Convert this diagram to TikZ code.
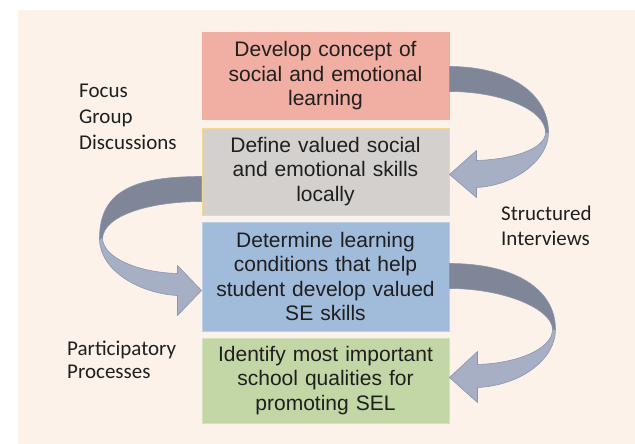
\documentclass[tikz,border=0pt]{standalone}
\usepackage{fontspec}
\setmainfont{Liberation Sans}
\newfontfamily\labelfont{Carlito}
\definecolor{bgcol}{HTML}{FCF2E9}
\definecolor{cone}{HTML}{F1AEA2}
\definecolor{ctwo}{HTML}{D3D0CE}
\definecolor{ctwoline}{HTML}{F3D890}
\definecolor{cthree}{HTML}{A1BBDB}
\definecolor{cthreeline}{HTML}{BACFE8}
\definecolor{cfour}{HTML}{C2D6A6}
\definecolor{cfourline}{HTML}{D3E2BF}
\definecolor{ardark}{HTML}{7E8697}
\definecolor{arlight}{HTML}{A7AFC4}
\definecolor{arline}{HTML}{8A95B0}
\definecolor{txt}{HTML}{1F1F1F}
\tikzset{
  stepbox/.style={rectangle, inner sep=0pt, minimum width=247pt, text width=240pt,
    align=center, text=txt, line width=1pt,
    font=\fontsize{21}{24.5}\selectfont},
  sidelabel/.style={inner sep=0pt, text width=130pt, align=left, text=txt,
    anchor=base west},
  ardarkpart/.style={fill=ardark, draw=arline, line width=0.6pt, line join=round},
  arlightpart/.style={fill=arlight, draw=arline, line width=0.6pt, line join=round}
}
\begin{document}
\begin{tikzpicture}[x=1pt,y=-1pt]
\useasboundingbox (0,0) rectangle (635,444);
\fill[bgcol] (18,10) rectangle (635,444);

% boxes
\node[stepbox, fill=cone, draw=cone, minimum height=86pt] (b1) at (325.5,76)
  {Develop concept of\\social and emotional\\learning};
\node[stepbox, fill=ctwo, draw=ctwoline, minimum height=87pt] (b2) at (325.5,171.5)
  {Define valued social\\and emotional skills\\locally};
\node[stepbox, fill=cthree, draw=cthreeline, minimum height=109pt] (b3) at (325.5,276.5)
  {Determine learning\\conditions that help\\student develop valued\\SE skills};
\node[stepbox, fill=cfour, draw=cfourline, minimum height=85pt] (b4) at (325.5,380.5)
  {Identify most important\\school qualities for\\promoting SEL};

% side labels
\node[sidelabel, font=\labelfont\fontsize{21}{26}\selectfont] (fgd) at (79,97)
  {Focus\\Group\\Discussions};
\node[sidelabel, font=\labelfont\fontsize{21}{25}\selectfont] (si) at (501,220)
  {Structured\\Interviews};
\node[sidelabel, font=\labelfont\fontsize{21}{23}\selectfont] (pp) at (67,355)
  {Participatory\\Processes};

% arrow 1: b1 -> b2 (right side)
\begin{scope}[shift={(b1.north east)}]
  \draw[ardarkpart] (0,34) .. controls (61,34) and (99,62) .. (99,100)
    -- (96,100) .. controls (96,77) and (51,59) .. (0,59) -- cycle;
  \draw[arlightpart] (99,100) .. controls (99,127) and (66,153) .. (27,155)
    -- (27,165) -- (0,142) -- (27,118) -- (27,128)
    .. controls (61,127) and (96,117) .. (96,100) -- cycle;
\end{scope}

% arrow 2: b2 -> b3 (left side)
\begin{scope}[shift={(b2.south west)}]
  \draw[ardarkpart] (0,-39) .. controls (-67,-39) and (-102,-25) .. (-102,23)
    -- (-99,23) .. controls (-98,0) and (-52,-14) .. (0,-14) -- cycle;
  \draw[arlightpart] (-102,23) .. controls (-102,55) and (-62,78) .. (-24,80)
    -- (-24,100) -- (0,75) -- (-24,50) -- (-24,58)
    .. controls (-62,57) and (-98,43) .. (-99,23) -- cycle;
\end{scope}

% arrow 3: b3 -> b4 (right side)
\begin{scope}[shift={(b3.north east)}]
  \draw[ardarkpart] (0,42) .. controls (66,42) and (106,68) .. (106,108)
    -- (103,108) .. controls (103,88) and (56,67) .. (0,67) -- cycle;
  \draw[arlightpart] (106,108) .. controls (106,138) and (71,164) .. (28,166)
    -- (28,181) -- (0,156) -- (28,130) -- (28,143)
    .. controls (66,142) and (103,128) .. (103,108) -- cycle;
\end{scope}
\end{tikzpicture}
\end{document}
